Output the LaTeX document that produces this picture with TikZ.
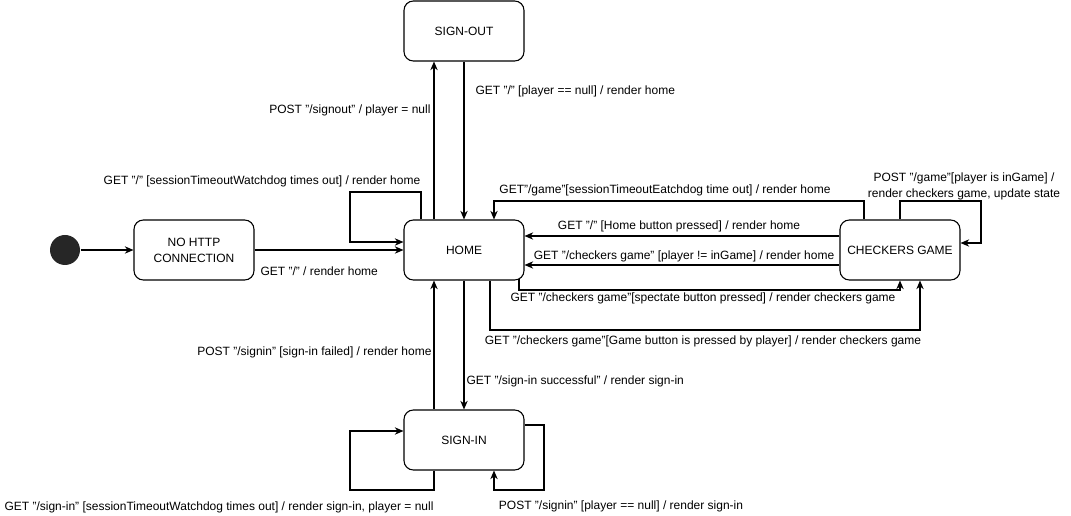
\documentclass[tikz,border=0pt]{standalone}
\usepackage{fontspec}
\setmainfont{Liberation Sans}
\usetikzlibrary{arrows.meta}

\begin{document}
\begin{tikzpicture}[x=0.75pt, y=-0.75pt, line width=0.8pt, >={Stealth[length=6.5pt, width=5.5pt]}, font=\fontsize{9}{12}\selectfont]
	\tikzstyle{state} = [rectangle, rounded corners=7pt, minimum width=90pt, minimum height=45pt, inner sep=0pt, align=center, draw=black, fill=white]
	\tikzstyle{trans} = [inner sep=0pt, align=center]

	\useasboundingbox (0,0) rectangle (1071,516);

	\node[circle, fill=black!85, minimum size=22.5pt, inner sep=0pt] (init) at (65,250) {};
	\node[state] (nohttp) at (194,250) {NO HTTP\\CONNECTION};

	\foreach \name/\x/\y/\text in {signout/464/31/SIGN-OUT, home/464/250/HOME, signin/464/440/SIGN-IN, checkers/900/250/CHECKERS GAME}
		\node[state] (\name) at (\x, \y) {\text};

	\draw[->] (init) -- (nohttp);
	\draw[->] (nohttp) -- (home);

	% sign-out and sign-in
	\draw[->] (434,0 |- home.north) -- (434,0 |- signout.south);
	\draw[->] (signout) -- (home);
	\draw[->] (home) -- (signin);
	\draw[->] (434,0 |- signin.north) -- (434,0 |- home.south);

	% loops on home and checkers
	\draw[->] (421,0 |- home.north) -- (421,192) -- (350,192) -- (350,242) -- (home.west |- 0,242);
	\draw[->] (900,0 |- checkers.north) -- (900,201) -- (981,201) -- (981,243) -- (checkers.east |- 0,243);

	\draw[->] (864,0 |- checkers.north) -- (864,201) -- (494,201) -- (494,0 |- home.north);
	\draw[->] (checkers.west |- 0,236) -- (home.east |- 0,236);
	\draw[->] (checkers.west |- 0,265) -- (home.east |- 0,265);
	\draw[->] (519,279) -- (519,290) -- (900,290) -- (900,0 |- checkers.south);
	\draw[->] (490,0 |- home.south) -- (490,330) -- (920,330) -- (920,0 |- checkers.south);

	% loops on sign-in
	\draw[->] (434,0 |- signin.south) -- (434,490) -- (350,490) -- (350,431) -- (signin.west |- 0,431);
	\draw[->] (signin.east |- 0,425) -- (544,425) -- (544,490) -- (494,490) -- (494,0 |- signin.south);

	\node[trans, anchor=east] (t-signout) at (431,110) {POST "/signout" / player = null};
	\node[trans, anchor=west] (t-nullhome) at (475,91) {GET "/" [player == null] / render home};
	\node[trans] (t-watchhome) at (262,181) {GET "/" [sessionTimeoutWatchdog times out] / render home};
	\node[trans, anchor=west] (t-nohttp) at (260,271) {GET "/" / render home};
	\node[trans] (t-gametime) at (665,190) {GET"/game"[sessionTimeoutEatchdog time out] / render home};
	\node[trans] (t-ingame) at (964,186) {POST "/game"[player is inGame] /\\render checkers game, update state};
	\node[trans] (t-homebtn) at (679,226) {GET "/" [Home button pressed] / render home};
	\node[trans] (t-notingame) at (684,256) {GET "/checkers game" [player != inGame] / render home};
	\node[trans] (t-spectate) at (703,298) {GET "/checkers game"[spectate button pressed] / render checkers game};
	\node[trans] (t-gamebtn) at (703,341) {GET "/checkers game"[Game button is pressed by player] / render checkers game};
	\node[trans, anchor=east] (t-failed) at (432,352) {POST "/signin" [sign-in failed] / render home};
	\node[trans, anchor=west] (t-success) at (466,381) {GET "/sign-in successful" / render sign-in};
	\node[trans] (t-signintime) at (219,507) {GET "/sign-in" [sessionTimeoutWatchdog times out] / render sign-in, player = null};
	\node[trans] (t-signinnull) at (621,506) {POST "/signin" [player == null] / render sign-in};

\end{tikzpicture}
\end{document}
